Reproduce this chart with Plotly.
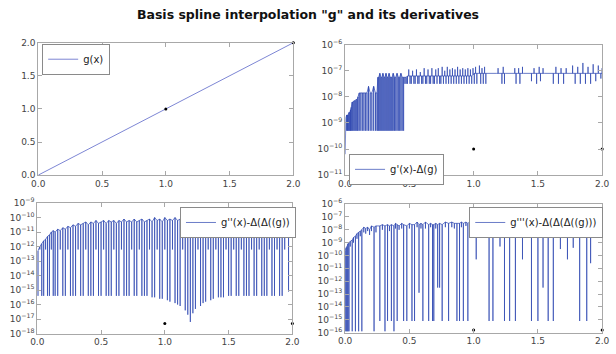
import plotly.graph_objects as go

# ---------------- data ----------------
# g(x)
g_x = [0.0, 0.5, 1.0, 1.5, 2.0]
g_y = [0.0, 0.5, 1.0, 1.5, 2.0]

# knots (small black dots)
knot_x = [1.0, 2.0]
knot_g = [1.0, 2.0]
knot_d1 = [-10.0, -10.0]
knot_d2 = [-17.3, -17.3]
knot_d3 = [-15.8, -15.8]

# g'(x)-Δ(g): x, baseline exponent, spike-tip exponent (log10)
d1_x = [0.000, 0.003, 0.006, 0.012, 0.018, 0.024, 0.030, 0.036, 0.042, 0.048,
        0.055, 0.062, 0.070, 0.078, 0.086, 0.094, 0.100, 0.110, 0.122, 0.134,
        0.146, 0.158, 0.170, 0.182, 0.195, 0.208, 0.222, 0.236, 0.248, 0.255,
        0.262, 0.270, 0.278, 0.286, 0.294, 0.302, 0.310, 0.318, 0.326, 0.334,
        0.342, 0.350, 0.358, 0.366, 0.374, 0.384, 0.394, 0.404, 0.414, 0.424,
        0.434, 0.444, 0.455, 0.465, 0.475, 0.485, 0.495, 0.505, 0.515, 0.525,
        0.535, 0.545, 0.555, 0.565, 0.575, 0.585, 0.595, 0.605, 0.615, 0.625,
        0.635, 0.645, 0.655, 0.665, 0.675, 0.685, 0.695, 0.705, 0.715, 0.725,
        0.735, 0.745, 0.755, 0.765, 0.775, 0.785, 0.795, 0.805, 0.815, 0.825,
        0.835, 0.845, 0.855, 0.865, 0.875, 0.885, 0.895, 0.905, 0.915, 0.925,
        0.935, 0.945, 0.955, 0.965, 0.975, 0.985, 0.995, 1.005, 1.015, 1.025,
        1.035, 1.045, 1.055, 1.065, 1.075, 1.085, 1.095, 1.180, 1.190, 1.220,
        1.230, 1.240, 1.250, 1.320, 1.330, 1.350, 1.360, 1.380, 1.390, 1.450,
        1.470, 1.490, 1.510, 1.520, 1.540, 1.550, 1.620, 1.640, 1.660, 1.680,
        1.700, 1.720, 1.770, 1.790, 1.810, 1.830, 1.850, 1.870, 1.890, 1.910,
        1.930, 1.950, 1.970, 1.990, 2.000]
d1_base = [-10.2, -9.3, -8.8, -8.7, -8.7, -8.7, -8.6, -8.6, -8.5, -8.4,
           -8.2, -8.2, -8.15, -8.15, -8.1, -8.1, -8.0, -7.85, -7.85, -7.85,
           -7.85, -7.85, -7.85, -7.6, -7.85, -7.85, -7.6, -7.85, -7.85, -7.25,
           -7.25, -7.1, -7.25, -7.25, -7.1, -7.25, -7.25, -7.1, -7.25, -7.25,
           -7.1, -7.25, -7.25, -7.25, -7.1, -7.25, -7.25, -7.1, -7.25, -7.25,
           -7.1, -7.25, -7.25, -7.25, -7.25, -7.2, -7.2, -7.2, -7.2, -7.2,
           -7.2, -7.2, -7.2, -7.2, -7.2, -7.2, -7.2, -7.2, -7.2, -7.2,
           -7.2, -7.2, -7.2, -7.2, -7.2, -7.2, -7.2, -7.2, -7.2, -7.2,
           -7.2, -7.2, -7.2, -7.2, -7.2, -7.2, -7.2, -7.2, -7.2, -7.2,
           -7.2, -7.2, -7.2, -7.2, -7.2, -7.2, -7.2, -7.2, -7.2, -7.2,
           -7.2, -7.2, -7.2, -7.2, -7.2, -7.2, -7.15, -7.1, -7.1, -7.1,
           -7.1, -7.1, -7.1, -7.1, -7.1, -7.1, -7.1, -7.1, -7.1, -7.1,
           -7.1, -7.1, -7.1, -7.1, -7.1, -7.1, -7.1, -7.1, -7.1, -7.1,
           -7.1, -7.1, -7.1, -7.1, -7.1, -7.1, -7.1, -7.1, -7.1, -7.1,
           -7.1, -7.1, -7.1, -7.1, -7.1, -7.1, -7.1, -7.1, -7.1, -7.1,
           -7.1, -7.1, -7.1, -7.1, -7.1]
d1_tip = [-10.2, -9.3, -9.3, -9.3, -9.3, -9.3, -9.3, -9.3, -9.3, -9.3,
          -9.3, -9.3, -9.3, -9.3, -9.3, -9.3, -9.3, -9.3, -9.3, -9.3,
          -9.3, -9.3, -9.3, -9.3, -9.3, -9.3, -9.3, -9.3, -9.3, -9.3,
          -9.3, -9.3, -9.3, -9.3, -9.3, -9.3, -9.3, -9.3, -9.3, -9.3,
          -9.3, -9.3, -9.3, -9.3, -9.3, -9.3, -9.3, -9.3, -9.3, -9.3,
          -9.3, -9.3, -9.3, -7.5, -7.5, -7.5, -6.95, -7.5, -7.5, -7.0,
          -7.5, -7.5, -6.95, -7.5, -7.5, -7.05, -7.5, -7.5, -6.9, -7.5,
          -7.5, -6.95, -7.5, -7.5, -6.9, -7.5, -7.5, -6.95, -7.5, -6.9,
          -7.5, -7.5, -6.85, -7.5, -7.0, -7.5, -6.85, -7.5, -6.95, -7.5,
          -6.9, -7.5, -6.95, -7.5, -6.85, -7.5, -6.95, -7.5, -6.9, -7.5,
          -6.95, -7.5, -6.9, -7.5, -6.95, -7.5, -6.9, -7.5, -6.85, -7.5,
          -7.1, -6.8, -7.5, -6.9, -7.5, -6.85, -7.5, -7.1, -6.9, -7.5,
          -6.85, -7.5, -7.1, -6.9, -7.5, -6.9, -7.5, -6.85, -7.1, -7.4,
          -6.9, -7.5, -6.85, -7.4, -6.9, -7.1, -7.5, -6.85, -7.5, -6.9,
          -7.5, -6.9, -6.8, -7.5, -6.85, -7.5, -6.7, -7.5, -6.85, -7.5,
          -6.75, -7.4, -6.8, -7.3, -6.9]

# g''(x)-Δ(Δ(g))
d2_x = [0.005, 0.02, 0.035, 0.05, 0.065, 0.08, 0.095, 0.11, 0.125, 0.14,
        0.16, 0.18, 0.20, 0.22, 0.24, 0.26, 0.28, 0.30, 0.32, 0.34,
        0.36, 0.38, 0.40, 0.42, 0.44, 0.46, 0.48, 0.50, 0.52, 0.54,
        0.56, 0.58, 0.60, 0.62, 0.64, 0.66, 0.68, 0.70, 0.72, 0.74,
        0.76, 0.78, 0.80, 0.82, 0.84, 0.86, 0.88, 0.90, 0.92, 0.94,
        0.96, 0.98, 1.00, 1.02, 1.04, 1.06, 1.08, 1.10, 1.12, 1.14,
        1.16, 1.18, 1.20, 1.22, 1.24, 1.26, 1.28, 1.30, 1.32, 1.34,
        1.36, 1.38, 1.40, 1.42, 1.44, 1.46, 1.48, 1.50, 1.52, 1.54,
        1.56, 1.58, 1.60, 1.62, 1.64, 1.66, 1.68, 1.70, 1.72, 1.74,
        1.76, 1.78, 1.80, 1.82, 1.84, 1.86, 1.88, 1.90, 1.92, 1.94,
        1.97, 2.00]
d2_base = [-12.3, -12.0, -11.8, -11.6, -11.5, -11.3, -11.2, -11.0, -10.9, -11.0,
           -10.8, -10.9, -10.7, -10.8, -10.6, -10.7, -10.5, -10.6, -10.4, -10.5,
           -10.4, -10.3, -10.5, -10.3, -10.4, -10.2, -10.4, -10.3, -10.2, -10.4,
           -10.2, -10.3, -10.2, -10.4, -10.2, -10.3, -10.1, -10.3, -10.2, -10.3,
           -10.1, -10.3, -10.2, -10.1, -10.3, -10.2, -10.1, -10.3, -10.0, -10.2,
           -10.1, -10.3, -10.0, -10.2, -10.1, -10.2, -10.0, -10.2, -10.1, -10.3,
           -10.1, -10.2, -10.0, -10.2, -10.1, -10.3, -10.1, -10.2, -10.0, -10.2,
           -10.1, -10.2, -10.1, -10.3, -10.0, -10.2, -10.1, -10.2, -10.0, -10.2,
           -10.1, -10.3, -10.1, -10.2, -10.0, -10.2, -10.1, -10.3, -10.1, -10.2,
           -10.0, -10.2, -10.1, -10.2, -10.0, -10.2, -10.1, -10.2, -10.1, -10.2,
           -10.1, -10.0]
d2_tip = [-15.4, -12.2, -15.4, -15.4, -12.2, -15.4, -15.4, -12.2, -15.4, -15.4,
          -15.4, -12.2, -15.4, -15.4, -12.2, -15.4, -15.4, -15.4, -12.2, -15.4,
          -15.4, -12.2, -15.4, -15.4, -15.4, -12.2, -15.4, -15.4, -12.2, -15.4,
          -15.4, -15.4, -12.2, -15.4, -15.4, -12.2, -15.4, -15.4, -15.4, -12.2,
          -15.4, -15.4, -12.2, -15.4, -15.4, -15.4, -12.2, -15.5, -15.5, -12.2,
          -15.6, -15.6, -12.2, -15.7, -15.8, -12.2, -15.9, -16.0, -16.1, -12.2,
          -16.4, -16.7, -17.2, -16.6, -16.3, -12.2, -16.1, -15.9, -15.8, -12.2,
          -15.7, -15.6, -12.2, -15.5, -15.5, -15.5, -12.2, -15.4, -15.4, -12.2,
          -15.4, -15.4, -12.2, -15.4, -15.4, -15.4, -12.2, -15.4, -15.4, -12.2,
          -15.4, -15.4, -15.4, -12.2, -15.4, -15.4, -12.2, -15.4, -15.4, -12.2,
          -15.1, -10.0]

# g'''(x)-Δ(Δ(Δ(g)))
d3_x = [0.000, 0.008, 0.015, 0.022, 0.030, 0.040, 0.055, 0.065, 0.080, 0.092,
        0.105, 0.118, 0.130, 0.145, 0.160, 0.175, 0.190, 0.205, 0.225, 0.240,
        0.270, 0.290, 0.310, 0.330, 0.345, 0.360, 0.380, 0.392, 0.405, 0.420,
        0.440, 0.455, 0.480, 0.500, 0.520, 0.540, 0.560, 0.575, 0.590, 0.605,
        0.625, 0.650, 0.665, 0.680, 0.690, 0.705, 0.720, 0.735, 0.755, 0.780,
        0.805, 0.830, 0.850, 0.870, 0.890, 0.905, 0.920, 0.940, 0.955, 0.980,
        1.020, 1.070, 1.120, 1.150, 1.205, 1.240, 1.280, 1.325, 1.380, 1.450,
        1.500, 1.540, 1.580, 1.620, 1.675, 1.730, 1.775, 1.825, 1.880, 1.910,
        1.960, 2.000]
d3_base = [-9.6, -9.4, -9.3, -9.1, -9.0, -8.9, -8.8, -8.6, -8.5, -8.3,
           -8.2, -8.1, -8.0, -7.8, -7.9, -7.8, -8.0, -7.7, -7.8, -7.7,
           -7.7, -7.6, -7.7, -7.6, -7.7, -7.6, -7.7, -7.5, -7.6, -7.7,
           -7.5, -7.6, -7.7, -7.5, -7.6, -7.6, -7.4, -7.6, -7.5, -7.6,
           -7.4, -7.6, -7.5, -7.6, -7.6, -7.5, -7.6, -7.5, -7.6, -7.4,
           -7.5, -7.4, -7.5, -7.5, -7.5, -7.4, -7.5, -7.4, -7.5, -7.3,
           -7.4, -7.4, -7.4, -7.4, -7.4, -7.4, -7.4, -7.4, -7.4, -7.4,
           -7.4, -7.4, -7.4, -7.4, -7.4, -7.4, -7.4, -7.4, -7.4, -7.4,
           -7.3, -7.2]
d3_tip = [-15.9, -15.9, -15.9, -15.9, -15.9, -9.3, -15.9, -9.0, -15.9, -8.7,
          -15.9, -8.5, -15.9, -8.2, -8.3, -8.1, -8.4, -8.1, -15.9, -8.2,
          -15.1, -8.0, -15.9, -15.1, -8.1, -15.1, -15.9, -7.9, -15.1, -8.0,
          -7.9, -15.1, -15.1, -7.9, -15.1, -15.1, -7.8, -12.9, -7.9, -15.1,
          -7.9, -15.1, -7.8, -15.1, -15.1, -7.9, -12.5, -12.5, -15.1, -7.8,
          -15.1, -7.8, -7.9, -15.1, -15.1, -7.8, -15.1, -7.7, -15.1, -7.6,
          -10.3, -7.6, -15.1, -15.1, -9.3, -15.1, -15.1, -15.1, -10.3, -15.1,
          -15.1, -12.5, -15.1, -15.1, -9.5, -10.3, -9.4, -15.1, -15.1, -10.6,
          -7.5, -7.2]

x_ticks = [0.0, 0.5, 1.0, 1.5, 2.0]
d1_decades = [-11, -10, -9, -8, -7, -6]
d2_decades = [-18, -17, -16, -15, -14, -13, -12, -11, -10, -9]
d3_decades = [-16, -15, -14, -13, -12, -11, -10, -9, -8, -7, -6]

assert len(d1_x) == len(d1_base) == len(d1_tip)
assert len(d2_x) == len(d2_base) == len(d2_tip)
assert len(d3_x) == len(d3_base) == len(d3_tip)

# ---------------- helpers ----------------
def spikes(xs, base, tip):
    px, py = [], []
    for x, b, t in zip(xs, base, tip):
        px += [x, x, x]
        py += [10 ** b, 10 ** t, 10 ** b]
    return px, py

LINE = "#2b45b0"
FONT = "DejaVu Sans"

fig = go.Figure()

fig.add_trace(go.Scatter(x=g_x, y=g_y, mode="lines", name="g(x)",
                         line=dict(color="#7d86d4", width=1),
                         xaxis="x", yaxis="y", legend="legend"))
px, py = spikes(d1_x, d1_base, d1_tip)
fig.add_trace(go.Scatter(x=px, y=py, mode="lines", name="g'(x)-Δ(g)",
                         line=dict(color=LINE, width=0.7),
                         xaxis="x2", yaxis="y2", legend="legend2"))
px, py = spikes(d2_x, d2_base, d2_tip)
fig.add_trace(go.Scatter(x=px, y=py, mode="lines", name="g''(x)-Δ(Δ((g))",
                         line=dict(color=LINE, width=0.7),
                         xaxis="x3", yaxis="y3", legend="legend3"))
px, py = spikes(d3_x, d3_base, d3_tip)
fig.add_trace(go.Scatter(x=px, y=py, mode="lines", name="g'''(x)-Δ(Δ(Δ((g)))",
                         line=dict(color=LINE, width=0.7),
                         xaxis="x4", yaxis="y4", legend="legend4"))

# knot dots
for ax, vals, log in [("", knot_g, False), ("2", knot_d1, True),
                      ("3", knot_d2, True), ("4", knot_d3, True)]:
    ys = [10 ** v for v in vals] if log else vals
    fig.add_trace(go.Scatter(x=knot_x, y=ys, mode="markers", showlegend=False,
                             marker=dict(color="black", size=3),
                             xaxis="x" + ax, yaxis="y" + ax, cliponaxis=False))

W, H = 616, 354
def dx(a, b):
    return [a / W, b / W]
def dy(top, bottom):
    return [1 - bottom / H, 1 - top / H]

axis_style = dict(showline=True, linecolor="#a8a8a8", linewidth=1, mirror="ticks",
                  ticks="inside", ticklen=4, tickcolor="#a8a8a8", showgrid=False,
                  zeroline=False, tickfont=dict(family=FONT, size=9, color="#444"))

def xax(dom, anchor):
    return dict(domain=dom, anchor=anchor, range=[0, 2], tickvals=x_ticks,
                ticktext=[f"{v:.1f}" for v in x_ticks], **axis_style)

def logax(dom, anchor, decades):
    return dict(domain=dom, anchor=anchor, type="log",
                range=[decades[0], decades[-1]],
                tickvals=[10 ** d for d in decades],
                ticktext=[f"10<sup>{str(d).replace('-', '−')}</sup>" for d in decades],
                **axis_style)

leg_common = dict(xanchor="left", yanchor="top", bordercolor="#8a8a8a", borderwidth=1,
                  bgcolor="white", font=dict(family=FONT, size=10, color="#222"),
                  itemwidth=30, tracegroupgap=0)

fig.update_layout(
    width=W, height=H,
    margin=dict(l=0, r=0, t=0, b=0),
    paper_bgcolor="white", plot_bgcolor="white",
    title=dict(text='<b>Basis spline interpolation "g" and its derivatives</b>',
               x=0.5, xanchor="center", y=1 - 15 / H, yanchor="middle",
               font=dict(family=FONT, size=12.5, color="#111")),
    xaxis=xax(dx(32, 293), "y"),
    yaxis=dict(domain=dy(37, 174), anchor="x", range=[0, 2], tickvals=x_ticks,
               ticktext=[f"{v:.1f}" for v in x_ticks], **axis_style),
    xaxis2=xax(dx(346, 609), "y2"),
    yaxis2=logax(dy(39, 174), "x2", d1_decades),
    xaxis3=xax(dx(31, 292), "y3"),
    yaxis3=logax(dy(203, 338), "x3", d2_decades),
    xaxis4=xax(dx(346, 609), "y4"),
    yaxis4=logax(dy(204, 337), "x4", d3_decades),
    legend=dict(x=36 / W, y=1 - 38 / H, **leg_common),
    legend2=dict(x=350 / W, y=1 - 152 / H, **leg_common),
    legend3=dict(x=177 / W, y=1 - 207 / H, **leg_common),
    legend4=dict(x=473 / W, y=1 - 207 / H, **leg_common),
)

fig.write_html("out.html")
